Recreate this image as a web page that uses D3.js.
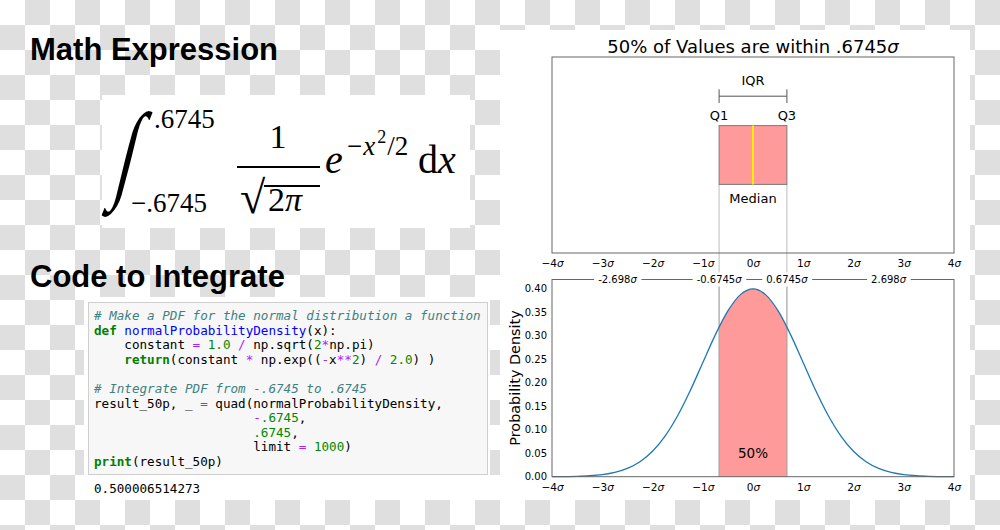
<!DOCTYPE html>
<html><head><meta charset="utf-8">
<script src="https://cdn.jsdelivr.net/npm/d3@7"></script>
<style>body{margin:0;background:#fff}svg{display:block}</style>
</head><body><svg id="c" width="1000" height="530"></svg>
<script>
// ---- data ----
const sigmaTicks = [-4, -3, -2, -1, 0, 1, 2, 3, 4];
const densityTicks = [0, 0.05, 0.10, 0.15, 0.20, 0.25, 0.30, 0.35, 0.40];
const curveX = [-4,-3.75,-3.5,-3.25,-3,-2.75,-2.5,-2.25,-2,-1.75,-1.5,-1.25,-1,-0.75,-0.5,-0.25,0,0.25,0.5,0.75,1,1.25,1.5,1.75,2,2.25,2.5,2.75,3,3.25,3.5,3.75,4];
const curveY = [0.00013,0.00035,0.00087,0.00203,0.00443,0.00909,0.01753,0.03174,0.05399,0.08628,0.12952,0.18265,0.24197,0.30114,0.35207,0.38667,0.39894,0.38667,0.35207,0.30114,0.24197,0.18265,0.12952,0.08628,0.05399,0.03174,0.01753,0.00909,0.00443,0.00203,0.00087,0.00035,0.00013];
const shadeX = [-0.6745,-0.5,-0.25,0,0.25,0.5,0.6745];
const shadeY = [0.3178,0.35207,0.38667,0.39894,0.38667,0.35207,0.3178];
const quartiles = [-0.6745, 0.6745];
const medianValue = 0;
const quartileLabels = ["Q1", "Q3"];
const markerValues = [-2.698, -0.6745, 0.6745, 2.698];
const markerLabels = ["-2.698", "-0.6745", "0.6745", "2.698"];
const shadeLabel = "50%";
const chartTitle = "50% of Values are within .6745";
const yLabel = "Probability Density";
const codeLines = [
  [["# Make a PDF for the normal distribution a function","c"]],
  [["def","k"],[" ","p"],["normalProbabilityDensity","f"],["(x):","p"]],
  [["    constant ","p"],["=","o"],[" ","p"],["1.0","n"],[" ","p"],["/","o"],[" np.sqrt(","p"],["2","n"],["*","o"],["np.pi)","p"]],
  [["    ","p"],["return","k"],["(constant ","p"],["*","o"],[" np.exp((","p"],["-","o"],["x","p"],["**","o"],["2","n"],[") ","p"],["/","o"],[" ","p"],["2.0","n"],[") )","p"]],
  [],
  [["# Integrate PDF from -.6745 to .6745","c"]],
  [["result_50p, _ ","p"],["=","o"],[" quad(normalProbabilityDensity,","p"]],
  [["                     ","p"],["-","o"],[".6745","n"],[",","p"]],
  [["                     ","p"],[".6745","n"],[",","p"]],
  [["                     limit ","p"],["=","o"],[" ","p"],["1000","n"],[")","p"]],
  [["print","k"],["(result_50p)","p"]]
];
const codeOutput = "0.500006514273";

// ---- drawing ----
const svg = d3.select("#c");
const defs = svg.append("defs");
const pat = defs.append("pattern").attr("id","chk").attr("patternUnits","userSpaceOnUse").attr("width",50).attr("height",50);
pat.append("rect").attr("width",50).attr("height",50).attr("fill","#ffffff");
pat.append("rect").attr("x",25).attr("y",0).attr("width",25).attr("height",25).attr("fill","#dfdfdf");
pat.append("rect").attr("x",0).attr("y",25).attr("width",25).attr("height",25).attr("fill","#dfdfdf");
svg.append("rect").attr("width",1000).attr("height",530).attr("fill","url(#chk)");

// headings
const headFont = "'Liberation Sans', Arial, sans-serif";
svg.append("text").attr("x",30).attr("y",60).attr("font-family",headFont).attr("font-weight","bold").attr("font-size",31).text("Math Expression");
svg.append("text").attr("x",30).attr("y",287).attr("font-family",headFont).attr("font-weight","bold").attr("font-size",31).text("Code to Integrate");

// math box
svg.append("rect").attr("x",102).attr("y",95).attr("width",368).attr("height",133).attr("fill","#fff");
const mf = "'Liberation Serif', 'Times New Roman', serif";
const m = svg.append("g").attr("font-family",mf).attr("fill","#000");
m.append("text").attr("transform","translate(112,188) skewX(-14) scale(0.62,1)").attr("font-size",108).text("∫");
m.append("text").attr("x",154).attr("y",128).attr("font-size",27).text(".6745");
m.append("text").attr("x",131).attr("y",212).attr("font-size",27).text("−.6745");
m.append("text").attr("x",278).attr("y",148).attr("font-size",34).attr("text-anchor","middle").text("1");
m.append("line").attr("x1",237).attr("x2",320).attr("y1",167).attr("y2",167).attr("stroke","#000").attr("stroke-width",1.8);
m.append("text").attr("x",240).attr("y",213).attr("font-size",46).text("√");
m.append("line").attr("x1",264).attr("x2",320).attr("y1",186).attr("y2",186).attr("stroke","#000").attr("stroke-width",1.8);
const t2 = m.append("text").attr("x",268).attr("y",211).attr("font-size",34);
t2.append("tspan").text("2");
t2.append("tspan").attr("font-style","italic").text("π");
m.append("text").attr("x",325).attr("y",173).attr("font-size",40).attr("font-style","italic").text("e");
const sup = m.append("text").attr("x",347).attr("y",155).attr("font-size",27);
sup.append("tspan").text("−");
sup.append("tspan").attr("font-style","italic").attr("dx",1).text("x");
sup.append("tspan").attr("font-size",18).attr("dx",2).attr("dy",-12).text("2");
sup.append("tspan").attr("dx",1).attr("dy",12).text("/2");
const dx = m.append("text").attr("x",418).attr("y",173).attr("font-size",40);
dx.append("tspan").text("d");
dx.append("tspan").attr("font-style","italic").text("x");

// code block
svg.append("rect").attr("x",84).attr("y",297).attr("width",406).attr("height",203).attr("fill","#fff");
svg.append("rect").attr("x",88.5).attr("y",302.5).attr("width",399).attr("height",172).attr("fill","#f7f7f7").attr("stroke","#cfcfcf").attr("stroke-width",1);
const tokStyle = {
  c:{fill:"#408080", style:"italic", weight:"normal"},
  k:{fill:"#008000", style:"normal", weight:"bold"},
  f:{fill:"#0000ff", style:"normal", weight:"normal"},
  o:{fill:"#aa22ff", style:"normal", weight:"normal"},
  n:{fill:"#008800", style:"normal", weight:"normal"},
  p:{fill:"#000000", style:"normal", weight:"normal"}
};
const nb = s => s.replace(/ /g, "\u00a0");
const codeG = svg.append("g").attr("font-family","'DejaVu Sans Mono', monospace").attr("font-size",12.6);
codeLines.forEach((line,i)=>{
  const t = codeG.append("text").attr("x",94).attr("y",320 + i*14.6);
  line.forEach(([txt,k])=>{
    const s = tokStyle[k];
    t.append("tspan").attr("fill",s.fill).attr("font-style",s.style).attr("font-weight",s.weight).text(nb(txt));
  });
});
codeG.append("text").attr("x",94).attr("y",493).attr("fill","#000").text(codeOutput);

// right figure
svg.append("rect").attr("x",500).attr("y",30).attr("width",470).attr("height",470).attr("fill","#fff");
const rf = "'DejaVu Sans', sans-serif";
const R = svg.append("g").attr("font-family",rf);
const x = d3.scaleLinear().domain([-4,4]).range([552,954]);
const yBox = d3.scaleLinear().domain([0,1]).range([253,57]);
const y = d3.scaleLinear().domain([0,0.4188]).range([476.7,279.5]);
const fmtSigma = d => (d<0 ? "\u2212"+Math.abs(d) : String(d));
function sigmaText(sel){
  sel.each(function(d){
    const t = d3.select(this);
    t.text(null);
    t.append("tspan").text(fmtSigma(d));
    t.append("tspan").attr("font-style","italic").text("σ");
  });
}

// title
const tt = R.append("text").attr("x",753).attr("y",53).attr("text-anchor","middle").attr("font-size",18).attr("fill","#000");
tt.append("tspan").text(chartTitle);
tt.append("tspan").attr("font-style","italic").text("σ");

// top axes: box plot
R.append("rect").attr("x",552).attr("y",57).attr("width",402).attr("height",196).attr("fill","#fff");
R.selectAll("line.qguide").data(quartiles).join("line").attr("class","qguide")
  .attr("x1",d=>x(d)).attr("x2",d=>x(d)).attr("y1",yBox(0.35)).attr("y2",y(0))
  .attr("stroke","#bdbdbd").attr("stroke-width",1);
R.append("rect").attr("x",x(quartiles[0])).attr("y",yBox(0.65)).attr("width",x(quartiles[1])-x(quartiles[0])).attr("height",yBox(0.35)-yBox(0.65))
  .attr("fill","#ff9a9a").attr("stroke","#7a7a7a").attr("stroke-width",1);
R.append("line").attr("x1",x(medianValue)).attr("x2",x(medianValue)).attr("y1",yBox(0.65)).attr("y2",yBox(0.35)).attr("stroke","#ffee00").attr("stroke-width",2);
R.append("line").attr("x1",x(quartiles[0])).attr("x2",x(quartiles[1])).attr("y1",yBox(0.80)).attr("y2",yBox(0.80)).attr("stroke","#555").attr("stroke-width",1);
quartiles.forEach(q=>R.append("line").attr("x1",x(q)).attr("x2",x(q)).attr("y1",yBox(0.765)).attr("y2",yBox(0.835)).attr("stroke","#555").attr("stroke-width",1));
R.append("text").attr("x",x(medianValue)).attr("y",yBox(0.857)).attr("text-anchor","middle").attr("font-size",13).text("IQR");
R.selectAll("text.ql").data(quartiles).join("text").attr("class","ql").attr("x",d=>x(d)).attr("y",yBox(0.68)).attr("text-anchor","middle").attr("font-size",13).text((d,i)=>quartileLabels[i]);
R.append("text").attr("x",x(medianValue)).attr("y",yBox(0.255)).attr("text-anchor","middle").attr("font-size",13).text("Median");
R.append("rect").attr("x",552).attr("y",57).attr("width",402).attr("height",196).attr("fill","none").attr("stroke","#666").attr("stroke-width",1);
const axTop = R.append("g").attr("transform","translate(0,253)")
  .call(d3.axisBottom(x).tickValues(sigmaTicks).tickSize(0).tickPadding(7));
axTop.select(".domain").remove();
axTop.selectAll(".tick text").attr("font-family",rf).attr("font-size",10.5).attr("fill","#000").call(sigmaText);

// bottom axes: density
const area = d3.area().x(d=>x(d[0])).y0(y(0)).y1(d=>y(d[1])).curve(d3.curveMonotoneX);
R.append("path").datum(shadeX.map((v,i)=>[v,shadeY[i]])).attr("d",area).attr("fill","#ff9a9a");
R.selectAll("line.qedge").data(quartiles).join("line").attr("class","qedge")
  .attr("x1",d=>x(d)).attr("x2",d=>x(d)).attr("y1",y(0.4188)).attr("y2",y(0))
  .attr("stroke","#999").attr("stroke-opacity",0.7).attr("stroke-width",1);
const line = d3.line().x(d=>x(d[0])).y(d=>y(d[1])).curve(d3.curveMonotoneX);
R.append("path").datum(curveX.map((v,i)=>[v,curveY[i]])).attr("d",line).attr("fill","none").attr("stroke","#1f77b4").attr("stroke-width",1.3);
R.append("text").attr("x",x(medianValue)).attr("y",y(0.04)).attr("text-anchor","middle").attr("font-size",13.5).text(shadeLabel);
R.append("rect").attr("x",552).attr("y",279.5).attr("width",402).attr("height",197.2).attr("fill","none").attr("stroke","#666").attr("stroke-width",1);
const axBot = R.append("g").attr("transform","translate(0,476.7)")
  .call(d3.axisBottom(x).tickValues(sigmaTicks).tickSize(0).tickPadding(7));
axBot.select(".domain").remove();
axBot.selectAll(".tick text").attr("font-family",rf).attr("font-size",10.5).attr("fill","#000").call(sigmaText);
const axLeft = R.append("g").attr("transform","translate(552,0)")
  .call(d3.axisLeft(y).tickValues(densityTicks).tickSize(0).tickPadding(5).tickFormat(d3.format(".2f")));
axLeft.select(".domain").remove();
axLeft.selectAll(".tick text").attr("font-family",rf).attr("font-size",10).attr("fill","#000");
R.append("text").attr("transform","translate(519.5,378) rotate(-90)").attr("text-anchor","middle").attr("font-size",14.4).text(yLabel);

const mk = R.selectAll("g.mk").data(markerValues).join("g").attr("class","mk").attr("transform",d=>`translate(${x(d)},279.5)`);
mk.each(function(d,i){
  const g = d3.select(this);
  const bg = g.append("rect").attr("fill","#fff");
  const t = g.append("text").attr("text-anchor","middle").attr("y",3.6).attr("font-size",10);
  t.append("tspan").text(markerLabels[i]);
  t.append("tspan").attr("font-style","italic").text("σ");
  const b = t.node().getBBox();
  bg.attr("x",b.x-4).attr("y",-7).attr("width",b.width+8).attr("height",14);
});
</script>
</body></html>
